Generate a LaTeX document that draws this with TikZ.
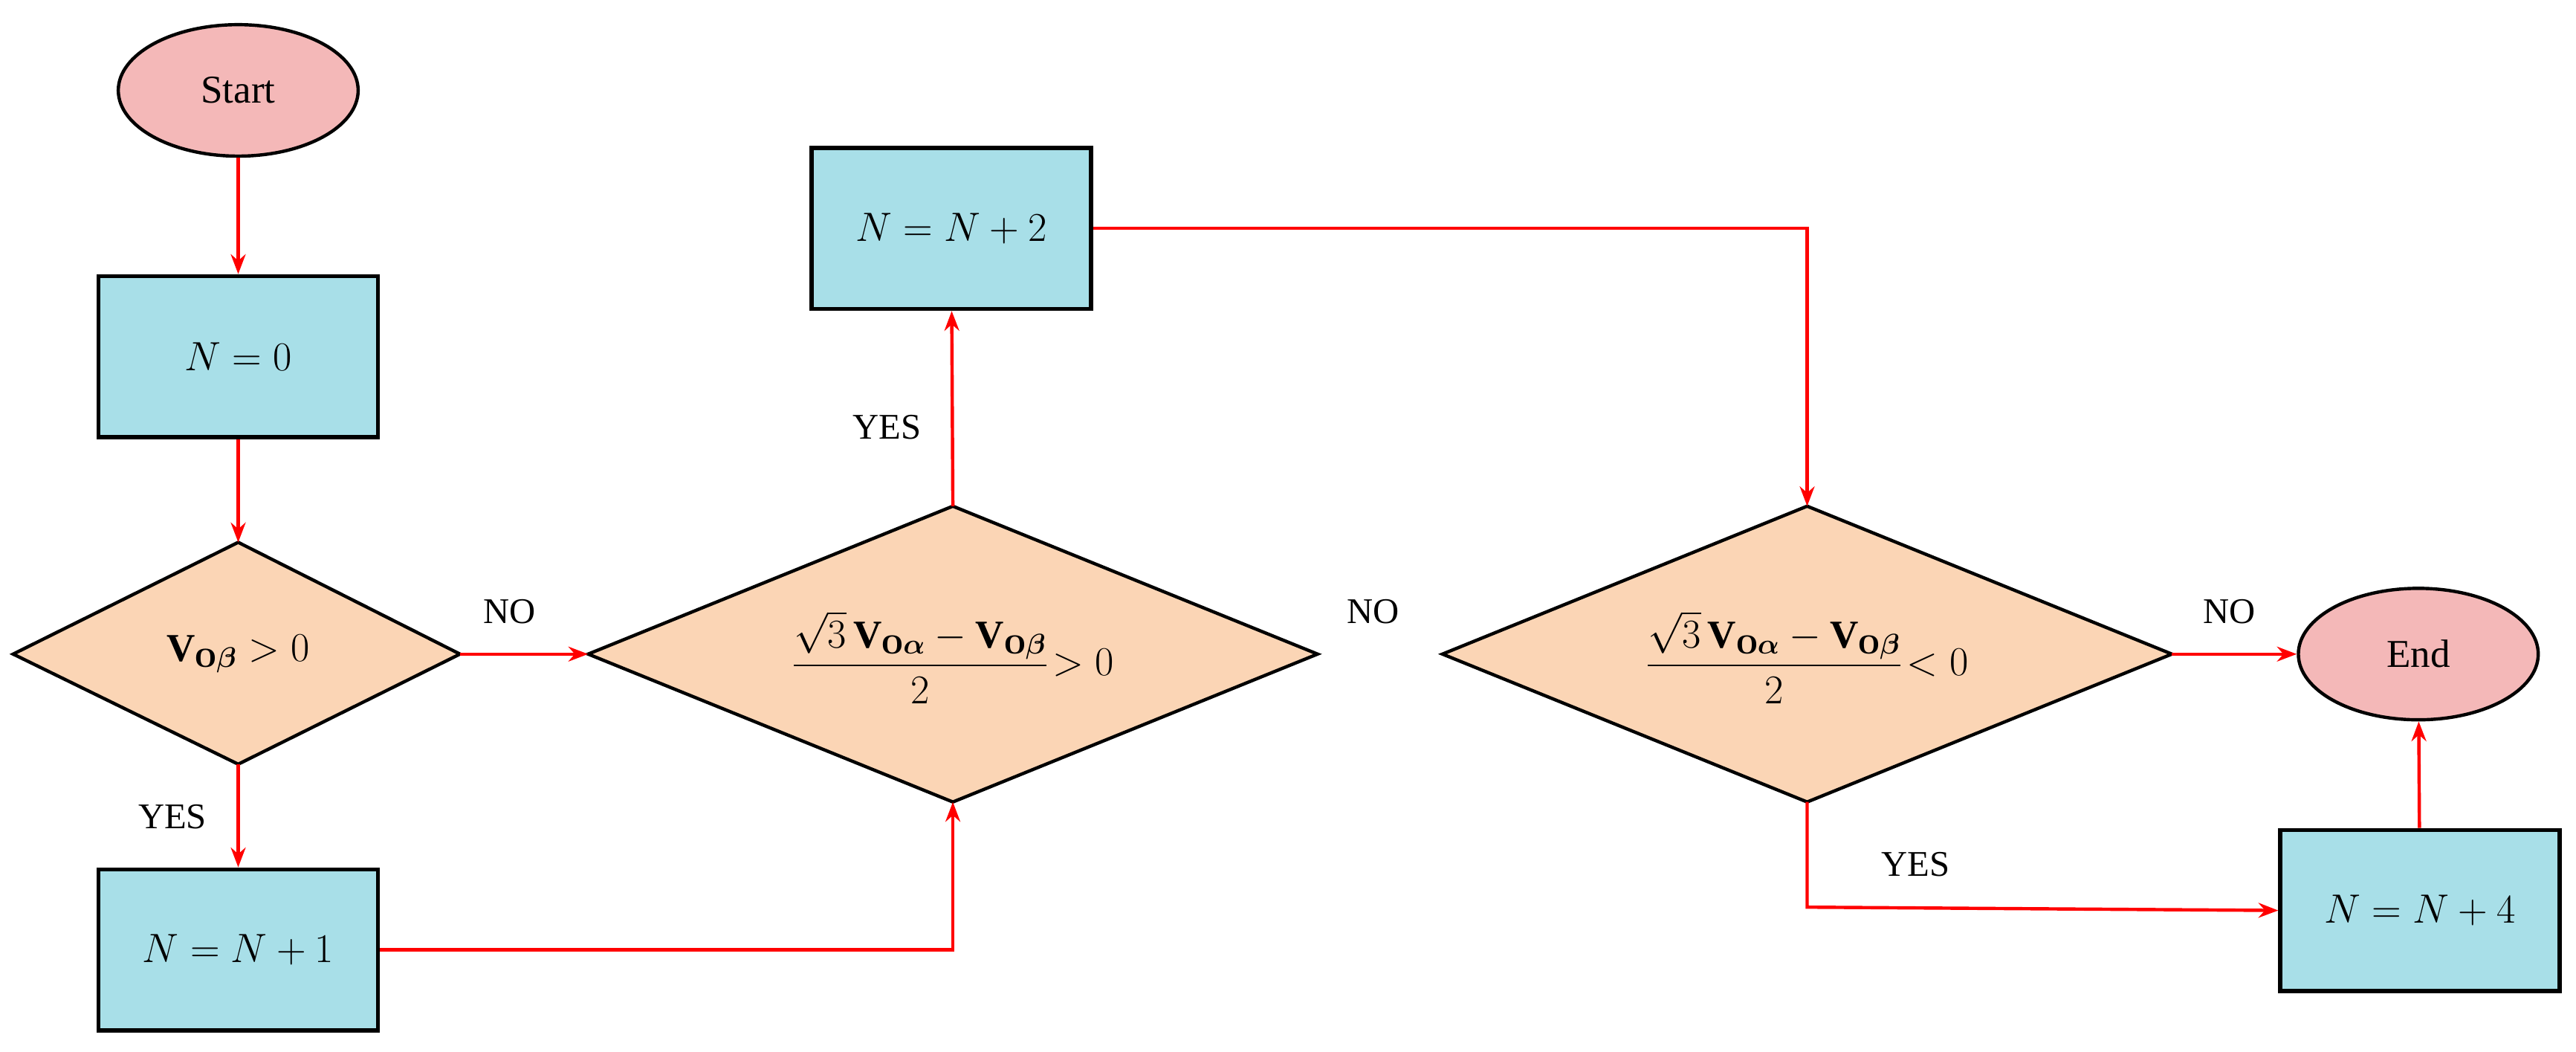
\documentclass[tikz,border=0pt]{standalone}
\usepackage{amsmath,amssymb,bm}
\usepackage{fontspec}
\setmainfont{Liberation Serif}
\usetikzlibrary{shapes.geometric,arrows.meta}
\definecolor{pinkf}{HTML}{F4B8B8}
\definecolor{bluef}{HTML}{A8DFE8}
\definecolor{orf}{HTML}{FBD5B5}
\begin{document}
\begin{tikzpicture}[x=1pt,y=-1pt,
  every node/.style={font=\fontsize{24}{28}\selectfont},
  term/.style={ellipse,draw=black,line width=2pt,fill=pinkf,minimum width=146pt,minimum height=80pt,inner sep=0pt},
  box/.style={rectangle,draw=black,line width=2.5pt,fill=bluef,minimum width=170pt,minimum height=98pt},
  dec/.style={diamond,draw=black,line width=2pt,fill=orf,inner sep=0pt},
  arr/.style={draw=red,line width=2pt,-{Stealth[length=12pt,width=9pt]}},
  lab/.style={font=\fontsize{22}{26}\selectfont}]
\useasboundingbox (0,0) rectangle (1568,640);
\node[term] (start) at (145,55) {Start};
\node[box] (n0) at (145,217) {$N=0$};
\path[dec,draw] (8,398) -- (145,330) -- (280,398) -- (145,465) -- cycle;
\coordinate (d1w) at (8,398); \coordinate (d1n) at (145,330);
\coordinate (d1e) at (280,398); \coordinate (d1s) at (145,465);
\node (d1) at (145,398) {$\mathbf{V}_{\mathbf{O}\bm\beta}>0$};
\node[box] (n1) at (145,578) {$N=N+1$};
\path[dec,draw] (358,398) -- (580,308) -- (802,398) -- (580,488) -- cycle;
\coordinate (d2w) at (358,398); \coordinate (d2n) at (580,308);
\coordinate (d2e) at (802,398); \coordinate (d2s) at (580,488);
\node (d2) at (580,400) {$\dfrac{\sqrt{3}\,\mathbf{V}_{\mathbf{O}\bm\alpha}-\mathbf{V}_{\mathbf{O}\bm\beta}}{2}\!>0$};
\node[box] (n2) at (579,139) {$N=N+2$};
\path[dec,draw] (878,398) -- (1100,308) -- (1322,398) -- (1100,488) -- cycle;
\coordinate (d3w) at (878,398); \coordinate (d3n) at (1100,308);
\coordinate (d3e) at (1322,398); \coordinate (d3s) at (1100,488);
\node (d3) at (1100,400) {$\dfrac{\sqrt{3}\,\mathbf{V}_{\mathbf{O}\bm\alpha}-\mathbf{V}_{\mathbf{O}\bm\beta}}{2}\!<0$};
\node[term] (end) at (1472,398) {End};
\node[box] (n4) at (1473,554) {$N=N+4$};
\draw[arr] (start) -- (n0);
\draw[arr] (n0) -- (d1n);
\draw[arr] (d1e) -- (d2w);
\draw[arr] (d1s) -- (n1);
\draw[arr] (n1.east) -- (580,578) -- (d2s);
\draw[arr] (d2n) -- (n2);
\draw[arr] (n2.east) -- (1100,139) -- (d3n);
\draw[arr] (d3e) -- (end.west);
\draw[arr] (d3s) -- (1100,552) -- (n4.west);
\draw[arr] (n4) -- (end);
\node[lab] (l1) at (310,372) {NO};
\node[lab] (l2) at (540,260) {YES};
\node[lab] (l3) at (836,372) {NO};
\node[lab] (l4) at (1357,372) {NO};
\node[lab] (l5) at (105,497) {YES};
\node[lab] (l6) at (1166,526) {YES};
\end{tikzpicture}
\end{document}
